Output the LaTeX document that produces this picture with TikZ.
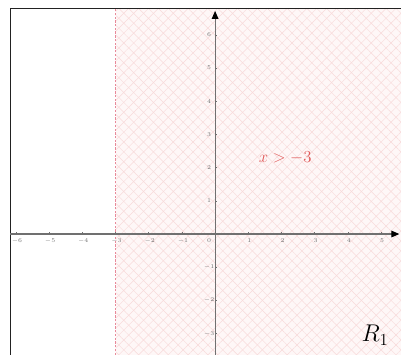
\documentclass[tikz,border=0pt]{standalone}
\usepackage{xcolor}
\usepackage{tikz}
\usetikzlibrary{arrows.meta,patterns.meta}
\definecolor{ink}{HTML}{222222}
\definecolor{axisgray}{HTML}{707070}
\definecolor{regionred}{HTML}{E05A5A}
\definecolor{dashpink}{HTML}{E88A9A}
\definecolor{hatchpink}{HTML}{F8DADA}
\definecolor{tintpink}{HTML}{FEF7F7}
\tikzset{
  axis/.style={draw=axisgray, line width=0.9pt, -{Triangle[length=2.4mm, width=2mm, color=black]}},
  frameline/.style={draw=ink, line width=0.7pt},
  bound/.style={draw=dashpink, line width=0.6pt, dash pattern=on 2pt off 1.2pt},
  hatchne/.style={pattern={Lines[angle=45, distance=6pt, line width=0.4pt]}, pattern color=hatchpink},
  hatchnw/.style={pattern={Lines[angle=-45, distance=6pt, line width=0.4pt]}, pattern color=hatchpink},
  tickmark/.style={draw=axisgray, line width=0.4pt},
  ticklabel/.style={font=\fontsize{4.5}{5}\selectfont, text=axisgray, inner sep=0.5pt},
  ineq/.style={text=regionred, font=\fontsize{14}{16}\selectfont},
  regionname/.style={text=black, font=\fontsize{22}{24}\selectfont}
}
\begin{document}
\begin{tikzpicture}
  \useasboundingbox (-6.48,-3.64) rectangle (5.6,7.05);

  % shaded half-plane x > -3
  \fill[tintpink] (-3,-3.64) rectangle (5.6,6.8);
  \fill[hatchne] (-3,-3.64) rectangle (5.6,6.8);
  \fill[hatchnw] (-3,-3.64) rectangle (5.6,6.8);

  % frame
  \coordinate (fbl) at (-6.17,-3.64);
  \coordinate (ftl) at (-6.17,6.8);
  \coordinate (ftr) at (5.6,6.8);
  \draw[frameline] (fbl) -- (ftl) -- (ftr);

  % boundary line
  \coordinate (bbot) at (-3,-3.64);
  \coordinate (btop) at (-3,6.8);
  \draw[bound] (bbot) -- (btop);

  % axes
  \coordinate (xmin) at (-6.17,0);
  \coordinate (xmax) at (5.55,0);
  \coordinate (ymin) at (0,-3.64);
  \coordinate (ymax) at (0,6.72);
  \draw[axis] (xmin) -- (xmax);
  \draw[axis] (ymin) -- (ymax);

  % ticks
  \foreach \x in {-6,-5,-4,-3,-2,-1,1,2,3,4,5} {
    \draw[tickmark] (\x,0) -- (\x,0.07);
    \node[ticklabel] (xl\x) at (\x+0.03,-0.2) {$\x$};
  }
  \foreach \y in {-3,-2,-1,1,2,3,4,5,6} {
    \draw[tickmark] (0,\y) -- (0.07,\y);
    \node[ticklabel] (yl\y) at (-0.18,\y) {$\y$};
  }
  \node[ticklabel] (origin) at (-0.18,-0.2) {$0$};

  % labels
  \node[ineq] (cond) at (2.11,2.29) {$x>-3$};
  \node[regionname] (rname) at (4.82,-3.04) {$R_1$};
\end{tikzpicture}
\end{document}
